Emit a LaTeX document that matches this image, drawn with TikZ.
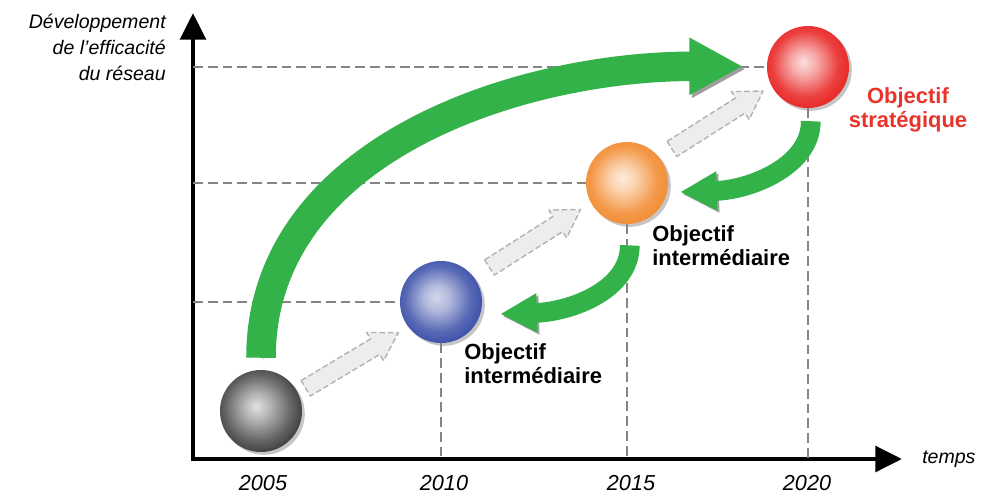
\documentclass[tikz,border=0pt]{standalone}
\usepackage{fontspec}
\setmainfont{Liberation Sans}
\usetikzlibrary{calc}
\usetikzlibrary{arrows.meta,positioning,shadows}
\definecolor{movegreen}{RGB}{51,178,74}
\definecolor{goalred}{RGB}{232,52,42}
\definecolor{ballblack}{RGB}{58,58,58}
\definecolor{ballblue}{RGB}{58,78,168}
\definecolor{ballorange}{RGB}{242,140,50}
\definecolor{ballred}{RGB}{232,38,36}

\pgfdeclareradialshading{sphereblack}{\pgfpoint{-3bp}{3bp}}{color(0bp)=(ballblack!15!white); color(8bp)=(ballblack!38!white); color(20bp)=(ballblack!78!white); color(28bp)=(ballblack); color(50bp)=(ballblack!65!black)}
\pgfdeclareradialshading{sphereblue}{\pgfpoint{-3bp}{3bp}}{color(0bp)=(ballblue!22!white); color(8bp)=(ballblue!40!white); color(20bp)=(ballblue!85!white); color(28bp)=(ballblue); color(50bp)=(ballblue!82!black)}
\pgfdeclareradialshading{sphereorange}{\pgfpoint{-3bp}{3bp}}{color(0bp)=(ballorange!16!white); color(8bp)=(ballorange!40!white); color(20bp)=(ballorange!88!white); color(28bp)=(ballorange); color(50bp)=(ballorange!88!black)}
\pgfdeclareradialshading{spherered}{\pgfpoint{-3bp}{3bp}}{color(0bp)=(ballred!15!white); color(8bp)=(ballred!40!white); color(20bp)=(ballred!88!white); color(28bp)=(ballred); color(50bp)=(ballred!88!black)}

\begin{document}
\begin{tikzpicture}[x=0.025cm,y=-0.025cm,>=Stealth, every node/.style={inner sep=0pt}]
    \tikzset{axis/.style={line width=3.5pt,-{Triangle[length=19pt,width=18pt]}}}
    \tikzset{guide/.style={black!48,line width=1.9pt,dash pattern=on 7pt off 3.5pt}}
    \tikzset{ball/.style={circle,minimum size=2.05cm,drop shadow={shadow xshift=2pt,shadow yshift=-2pt,opacity=0.45}}}
    \tikzset{stepup/.style={draw=black!30,fill=black!7,line width=1pt,dash pattern=on 4pt off 2pt,line join=round}}
    \tikzset{bigmove/.style={movegreen,line width=21pt,-{Triangle[length=38pt,width=38pt]},preaction={draw=gray!75,transform canvas={shift={(2pt,-2pt)}}}}}
    \tikzset{backmove/.style={movegreen,line width=14pt,-{Triangle[length=26pt,width=26pt]},preaction={draw=gray!75,transform canvas={shift={(1.5pt,-1.5pt)}}}}}
    \tikzset{goal/.style={font=\fontsize{15.6}{17}\selectfont\bfseries,align=left}}
    \tikzset{axistitle/.style={font=\fontsize{13.9}{18.4}\selectfont\itshape}}
    \tikzset{year/.style={font=\fontsize{15.4}{17}\selectfont\itshape}}

    \useasboundingbox (0,0) rectangle (986,493);

    % axes
    \coordinate (origin) at (193,459);
    \coordinate (ytip) at (193,13);
    \coordinate (xtip) at (902,459);
    \draw[axis] ([yshift=-1.7pt]origin) -- (ytip);
    \draw[axis] ([xshift=-1.7pt]origin) -- (xtip);
    \node[axistitle,align=right,anchor=north east] (ylab) at (166,14) {Développement\\de l’efficacité\\du réseau};
    \node[axistitle,anchor=base west] (tlab) at (922,463) {temps};

    % spheres
    \node[ball,shading=sphereblack] (s1) at (261,411) {};
    \node[ball,shading=sphereblue] (s2) at (441,302) {};
    \node[ball,shading=sphereorange] (s3) at (627,183) {};
    \node[ball,shading=spherered] (s4) at (808,67) {};

    % guides
    \draw[guide] (origin |- s2) -- (s2.west);
    \draw[guide] (origin |- s3) -- (s3.west);
    \draw[guide] (origin |- s4) -- (s4.west);
    \draw[guide] (s2.south) -- (s2.south |- origin);
    \draw[guide] (s3.south) -- (s3.south |- origin);
    \draw[guide] (s4.south) -- (s4.south |- origin);

    % steps
    \foreach \from/\to/\ang/\dx/\dy in {s1/s2/31/1/4, s2/s3/32.5/1/-4, s3/s4/32.4/0/-5}
      \draw[stepup,shift={($(\from)!0.5!(\to)+(\dx,\dy)$)},rotate=\ang]
        (-54,-9) -- (27,-9) -- (27,-16.5) -- (54,0) -- (27,16.5) -- (27,9) -- (-54,9) -- cycle;

    % green moves
    \draw[bigmove] ([yshift=8.5pt]s1.north) .. controls +(0,-208) and +(-224,0) .. ([xshift=-17pt,yshift=0.5pt]s4.west);
    \draw[backmove] ([xshift=2pt,yshift=-9.2pt]s4.south) .. controls +(0,45) and +(70,-2) .. ([xshift=8.5pt,yshift=-6.4pt]s3.east);
    \draw[backmove] ([xshift=2pt,yshift=-15pt]s3.south) .. controls +(0,45) and +(70,-2) .. ([xshift=12.8pt,yshift=-8.5pt]s2.east);

    % labels
    \node[goal,anchor=north west] (l2) at (464,343) {Objectif\\intermédiaire};
    \node[goal,anchor=north west] (l3) at (652,225) {Objectif\\intermédiaire};
    \node[goal,align=center,text=goalred] (l4) at (908,110) {Objectif\\stratégique};

    \node[year,anchor=base] (y05) at (263,490) {2005};
    \node[year,anchor=base] (y10) at (444,490) {2010};
    \node[year,anchor=base] (y15) at (631,490) {2015};
    \node[year,anchor=base] (y20) at (807,490) {2020};
\end{tikzpicture}
\end{document}
